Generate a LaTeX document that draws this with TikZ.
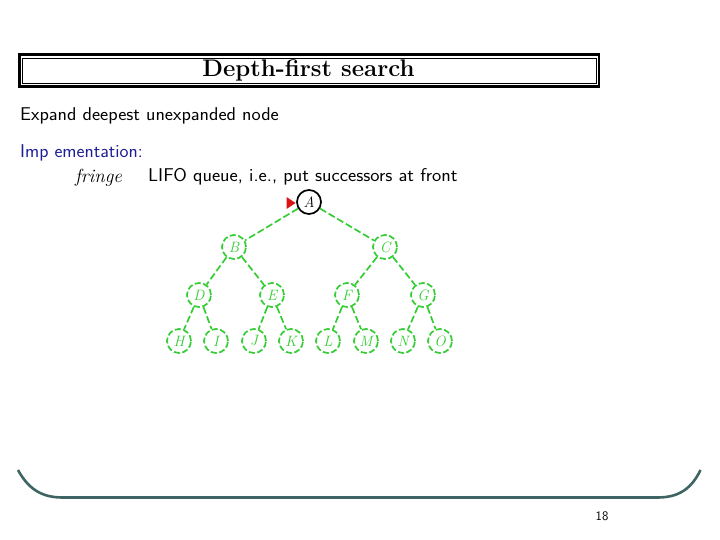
\documentclass[tikz,border=0pt]{standalone}
\usepackage{fontspec}
\usepackage{graphicx}
\definecolor{dgreen}{RGB}{51,204,51}
\definecolor{slate}{RGB}{63,100,100}
\definecolor{iblue}{RGB}{30,30,150}
\definecolor{tred}{RGB}{220,20,20}
\begin{document}
\begin{tikzpicture}[x=1pt,y=-1pt,
  gnode/.style={circle,draw=dgreen,dash pattern=on 6pt off 2.5pt,line width=1.7pt,minimum size=24pt,inner sep=0pt,text=dgreen,font=\itshape\fontsize{15}{16}\selectfont},
  rootnode/.style={circle,draw=black,line width=1.7pt,minimum size=24pt,inner sep=0pt,font=\itshape\fontsize{15}{16}\selectfont},
  gedge/.style={draw=dgreen,dash pattern=on 7pt off 3pt,line width=1.7pt},
  bodytext/.style={anchor=west,inner sep=0pt,font=\sffamily\fontsize{18.5}{22}\selectfont}]
\useasboundingbox (0,0) rectangle (720,540);
% title box
\draw[line width=2.2pt] (19.5,54.5) rectangle (599,86.5);
\draw[line width=2.8pt] (19.5,54.5) -- (19.5,86.5);
\draw[line width=0.8pt] (22.5,58) rectangle (596,83);
\node[inner sep=0pt,font=\bfseries\fontsize{24}{26}\selectfont] (title) at (308.5,70) {Depth-first search};
% text
\node[bodytext] (t1) at (20,116) {\scalebox{1.052}[1]{Expand deepest unexpanded node}};
\node[bodytext,text=iblue] (t2) at (20,153) {\scalebox{1.03}[1]{Imp ementation:}};
\node[anchor=west,inner sep=0pt,font=\itshape\fontsize{19}{22}\selectfont] (t3) at (75,178) {fringe};
\node[bodytext] (t4) at (148,177) {\scalebox{1.061}[1]{LIFO queue, i.e., put successors at front}};
% tree
\node[rootnode] (A) at (309,202) {A};
\node[gnode] (B) at (234,247) {B};
\node[gnode] (C) at (385,247) {C};
\node[gnode] (D) at (199,295) {D};
\node[gnode] (E) at (272,295) {E};
\node[gnode] (F) at (347,295) {F};
\node[gnode] (G) at (423,295) {G};
\node[gnode] (H) at (179,341) {H};
\node[gnode] (I) at (216,341) {I};
\node[gnode] (J) at (254,341) {J};
\node[gnode] (K) at (291,341) {K};
\node[gnode] (L) at (328,341) {L};
\node[gnode] (M) at (366,341) {M};
\node[gnode] (N) at (403,341) {N};
\node[gnode] (O) at (440,341) {O};
\foreach \p/\c in {A/B,A/C,B/D,B/E,C/F,C/G,D/H,D/I,E/J,E/K,F/L,F/M,G/N,G/O}
  \draw[gedge] (\p) -- (\c);
% red pointer
\coordinate (tip) at (295.5,203);
\fill[tred] (tip) -- ++(-9,-6) -- ++(0,12) -- cycle;
% bottom frame
\draw[slate,line width=2.6pt] (18,470) .. controls (30,492) and (45,497.5) .. (63,497.5) -- (657,497.5) .. controls (675,497.5) and (690,492) .. (700.5,470);
\node[inner sep=0pt,font=\sffamily\fontsize{13}{15}\selectfont] (pg) at (602,516) {18};
\end{tikzpicture}
\end{document}
